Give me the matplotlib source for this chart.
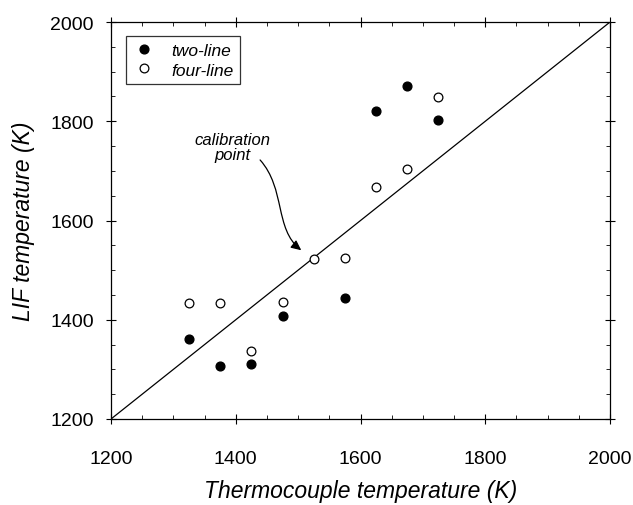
import matplotlib
import numpy as np

matplotlib.use("Agg")
matplotlib.rcParams["font.family"] = ["Liberation Sans", "DejaVu Sans"]
import matplotlib.pyplot as plt  # noqa: E402
from matplotlib.patches import FancyArrowPatch  # noqa: E402
from matplotlib.path import Path  # noqa: E402

# thermocouple vs LIF temperatures (K)
two_x = [1325, 1375, 1425, 1475, 1575, 1625, 1675, 1725]
two_y = [1362, 1306, 1311, 1408, 1444, 1821, 1871, 1803]
four_x = [1325, 1375, 1425, 1475, 1525, 1575, 1625, 1675, 1725]
four_y = [1434, 1434, 1337, 1436, 1523, 1525, 1668, 1704, 1849]

fig = plt.figure(figsize=(6.33, 5.06), dpi=100)
ax = fig.add_axes([0.1754, 0.17, 0.7883, 0.7845])

ax.plot([1200, 2000], [1200, 2000], color="black", lw=0.9, zorder=1)
ax.plot(two_x, two_y, "o", ls="", ms=6.3, mfc="black", mec="black",
        label="two-line", zorder=3)
ax.plot(four_x, four_y, "o", ls="", ms=6.3, mfc="white", mec="black",
        mew=0.9, label="four-line", zorder=3)

ax.set_xlim(1200, 2000)
ax.set_ylim(1200, 2000)
ax.set_xticks(np.arange(1200, 2001, 200))
ax.set_yticks(np.arange(1200, 2001, 200))
ax.set_xticks(np.arange(1200, 2001, 50), minor=True)
ax.set_yticks(np.arange(1200, 2001, 50), minor=True)
ax.tick_params(which="major", direction="inout", length=7, width=0.8,
               labelsize=14, top=True, right=True, pad=9)
ax.tick_params(axis="x", which="major", pad=19)
ax.tick_params(which="minor", direction="in", length=3, width=0.6,
               top=True, right=True)
for s in ax.spines.values():
    s.set_linewidth(0.9)

ax.set_xlabel("Thermocouple temperature (K)", fontsize=16.5, style="italic")
ax.xaxis.set_label_coords(0.5, -0.152)
ax.set_ylabel("LIF temperature (K)", fontsize=16.5, style="italic",
              labelpad=11)

leg = ax.legend(loc="upper left", bbox_to_anchor=(0.03, 0.965),
                prop={"style": "italic", "size": 12.5}, frameon=True,
                fancybox=False, edgecolor="black", handletextpad=0.9,
                borderpad=0.4, labelspacing=0.25, handlelength=1.3,
                borderaxespad=0.0)
leg.get_frame().set_linewidth(0.9)

ax.text(1394, 1748, "calibration\npoint", ha="center", va="center",
        fontsize=12, style="italic", linespacing=1.0)
curve = Path([(1439, 1722), (1480, 1664), (1462, 1583), (1505, 1540)],
             [Path.MOVETO, Path.CURVE4, Path.CURVE4, Path.CURVE4])
arrow = FancyArrowPatch(path=curve,
                        arrowstyle="-|>,head_length=6,head_width=2.8",
                        color="black", lw=0.9, zorder=2,
                        transform=ax.transData)
ax.add_patch(arrow)

fig.savefig("out.png", dpi=100)
